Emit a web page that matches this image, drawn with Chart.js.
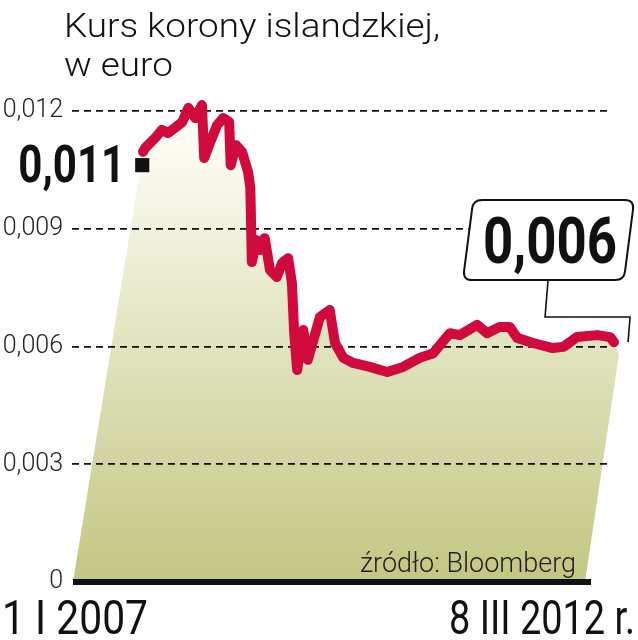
<!DOCTYPE html>
<html>
<head>
<meta charset="utf-8">
<script src="https://cdn.jsdelivr.net/npm/chart.js@4"></script>
<style>
html,body{margin:0;padding:0;background:#fff;}
#wrap{width:638px;height:640px;position:relative;}
</style>
</head>
<body>
<div id="wrap"><canvas id="c" width="638" height="640"></canvas></div>
<script>
// ---- data (months since 1 I 2007, EUR per ISK) ----
const titleLines = ['Kurs korony islandzkiej,', 'w euro'];
const sourceText = 'źródło: Bloomberg';
const startLabel = '1 I 2007';
const endLabel = '8 III 2012 r.';
const months = [0, 0.3, 1.6, 2.5, 3.3, 4.2, 5.2, 6.0, 6.9, 7.8, 8.1, 8.9, 9.8, 10.6, 11.4, 11.6, 12.3, 13.1, 13.9, 14.2, 14.4, 15.0, 15.5, 16.1, 16.8, 17.7, 18.4, 19.2, 19.7, 20.0, 20.4, 21.2, 21.8, 23.4, 24.7, 25.4, 26.5, 27.8, 30.0, 32.3, 34.4, 36.6, 38.4, 40.6, 41.9, 44.2, 45.5, 47.2, 48.5, 49.5, 51.6, 54.2, 55.6, 57.4, 60.1, 61.8, 62.3];
const rate = [0.01096, 0.01106, 0.01131, 0.01152, 0.01144, 0.01157, 0.01172, 0.01208, 0.01182, 0.01215, 0.01080, 0.01121, 0.01164, 0.01182, 0.01172, 0.01062, 0.01113, 0.01096, 0.01045, 0.01004, 0.00815, 0.00871, 0.00846, 0.00876, 0.00795, 0.00777, 0.00813, 0.00825, 0.00762, 0.00634, 0.00540, 0.00642, 0.00566, 0.00675, 0.00693, 0.00609, 0.00571, 0.00558, 0.00548, 0.00535, 0.00548, 0.00571, 0.00583, 0.00634, 0.00629, 0.00655, 0.00634, 0.00650, 0.00650, 0.00622, 0.00609, 0.00596, 0.00599, 0.00624, 0.00629, 0.00624, 0.00611];
const markerMonths = [-0.1, 63.9];
const markerRate = [0.01062, 0.00596];
const markerLabels = ['0,011', '0,006'];
const yTicks = [0, 0.003, 0.006, 0.009, 0.012];

const lineData = months.map((m, i) => ({x: m, y: rate[i]}));
const markerData = markerMonths.map((m, i) => ({x: m, y: markerRate[i]}));

function fmt(v) { return v === 0 ? '0' : v.toFixed(3).replace('.', ','); }

// draw text squeezed/stretched horizontally to a target width
function fitText(ctx, text, x, y, align, width) {
  const w = ctx.measureText(text).width;
  const s = width / w;
  ctx.save();
  ctx.translate(x, y);
  ctx.scale(s, 1);
  ctx.textAlign = 'left';
  const x0 = align === 'right' ? -w : (align === 'center' ? -w / 2 : 0);
  ctx.fillText(text, x0, 0);
  ctx.restore();
  return s;
}

const decor = {
  id: 'decor',
  beforeDraw(chart) {
    const ctx = chart.ctx, a = chart.chartArea;
    const pts = chart.getDatasetMeta(0).data;
    const yb = chart.scales.y.getPixelForValue(0);
    const g = ctx.createLinearGradient(0, a.top + 30, 0, yb);
    g.addColorStop(0, '#fcfcf4');
    g.addColorStop(1, '#c2c782');
    ctx.save();
    ctx.beginPath();
    ctx.moveTo(pts[0].x, pts[0].y);
    for (const p of pts) ctx.lineTo(p.x, p.y);
    const last = pts[pts.length - 1];
    ctx.lineTo(last.x + 5, last.y + 12);
    ctx.lineTo(a.right - 27, yb);
    ctx.lineTo(a.left + 1, yb);
    ctx.closePath();
    ctx.fillStyle = g;
    ctx.fill();
    ctx.restore();
  },
  afterDraw(chart) {
    const ctx = chart.ctx, a = chart.chartArea;
    const xs = chart.scales.x, ys = chart.scales.y;
    const yb = ys.getPixelForValue(0);
    ctx.save();
    ctx.textBaseline = 'alphabetic';
    // baseline
    ctx.fillStyle = '#111';
    ctx.fillRect(a.left + 1, yb - 3, a.right - 22 - a.left, 6);
    // title
    ctx.fillStyle = '#111';
    ctx.font = '300 34px Roboto';
    const ts = ctx.measureText(titleLines[0]).width;
    const s = 376 / ts;
    fitText(ctx, titleLines[0], 64, 37, 'left', 376);
    fitText(ctx, titleLines[1], 64, 76, 'left', ctx.measureText(titleLines[1]).width * s);
    // source
    ctx.font = '300 27px Roboto';
    ctx.fillStyle = '#222';
    ctx.textAlign = 'right';
    ctx.fillText(sourceText, a.right - 36, yb - 10);
    // bottom date labels
    ctx.fillStyle = '#111';
    ctx.font = '48px Roboto';
    fitText(ctx, startLabel, 2, 634, 'left', 146);
    fitText(ctx, endLabel, 635, 634, 'right', 186);
    // left marker label
    const m1x = xs.getPixelForValue(markerMonths[0]), m1y = ys.getPixelForValue(markerRate[0]);
    ctx.font = 'bold 52px Roboto';
    fitText(ctx, markerLabels[0], m1x - 17, m1y + 17, 'right', 107);
    // right callout box
    const mx = xs.getPixelForValue(markerMonths[1]), my = ys.getPixelForValue(markerRate[1]);
    const top = my - 148, bot = my - 68, ltop = mx - 153, rtop = mx + 8, sk = 10, r = 9;
    ctx.beginPath();
    ctx.moveTo(ltop + r, top);
    ctx.lineTo(rtop - r, top);
    ctx.quadraticCurveTo(rtop, top, rtop - 1, top + r);
    ctx.lineTo(rtop - sk + 1, bot - r);
    ctx.quadraticCurveTo(rtop - sk, bot, rtop - sk - r, bot);
    ctx.lineTo(ltop - sk + r, bot);
    ctx.quadraticCurveTo(ltop - sk, bot, ltop - sk + 1, bot - r);
    ctx.lineTo(ltop - 1, top + r);
    ctx.quadraticCurveTo(ltop, top, ltop + r, top);
    ctx.closePath();
    ctx.fillStyle = '#fff';
    ctx.fill();
    ctx.lineWidth = 2;
    ctx.strokeStyle = '#111';
    ctx.stroke();
    // connector
    ctx.beginPath();
    ctx.lineWidth = 1.6;
    ctx.moveTo(mx - 78, bot);
    ctx.lineTo(mx - 81, my - 31);
    ctx.lineTo(mx + 4, my - 31);
    ctx.lineTo(mx + 2, my - 6);
    ctx.stroke();
    ctx.fillStyle = '#111';
    ctx.font = 'bold 64px Roboto';
    fitText(ctx, markerLabels[1], mx - 76, my - 85, 'center', 134);
    ctx.restore();
  }
};

new Chart(document.getElementById('c'), {
  type: 'line',
  data: {
    datasets: [
      {
        data: lineData,
        borderColor: '#d00a3d',
        borderWidth: 10,
        borderJoinStyle: 'round',
        borderCapStyle: 'round',
        pointRadius: 0,
        tension: 0,
        fill: false,
        clip: false
      },
      {
        data: markerData,
        showLine: false,
        pointStyle: 'rect',
        pointRadius: 10,
        pointBackgroundColor: '#111',
        pointBorderWidth: 0,
        clip: false
      }
    ]
  },
  options: {
    responsive: false,
    animation: false,
    events: [],
    layout: {padding: {left: 0, right: 26, top: 111, bottom: 58}},
    plugins: {legend: {display: false}, tooltip: {enabled: false}, title: {display: false}},
    scales: {
      x: {type: 'linear', min: -9.39, max: 62.04, display: false},
      y: {
        min: 0, max: 0.012,
        afterFit(s) { s.width = 72; },
        afterBuildTicks(s) { s.ticks = yTicks.map(v => ({value: v})); },
        border: {display: false, dash: [7, 5]},
        grid: {
          drawTicks: false,
          lineWidth: 1.8,
          color: ctx => (ctx.tick && ctx.tick.value === 0) ? 'rgba(0,0,0,0)' : '#111'
        },
        ticks: {
          padding: 9,
          color: '#222',
          font: {family: 'Roboto', weight: '300', size: 25},
          callback: v => fmt(v)
        }
      }
    }
  },
  plugins: [decor]
});
</script>
</body>
</html>
